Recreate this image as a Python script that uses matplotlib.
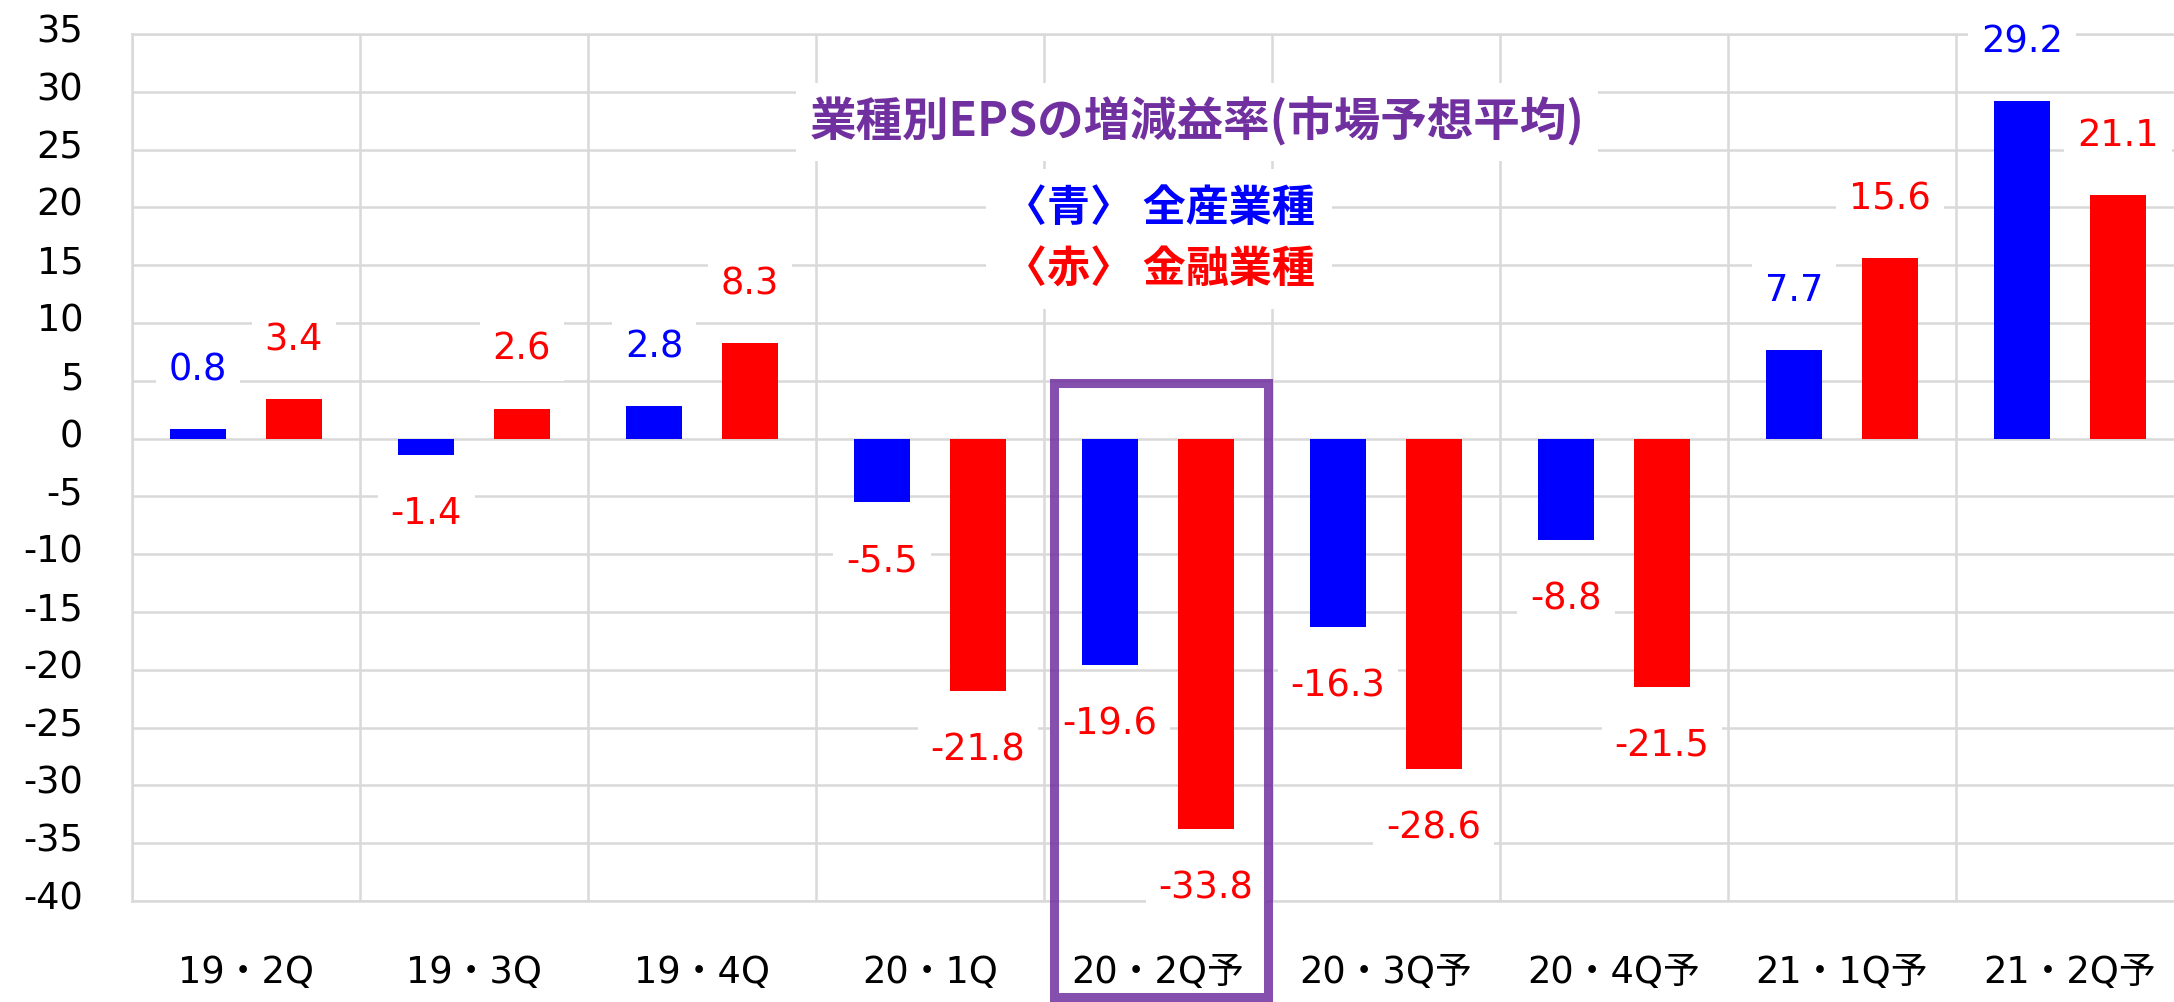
import numpy as np
import matplotlib
matplotlib.use('Agg')
import matplotlib.pyplot as plt
import matplotlib.transforms as mtransforms
from matplotlib.patches import Rectangle

plt.rcParams['font.family'] = ['DejaVu Sans', 'Noto Sans CJK JP']
plt.rcParams['axes.unicode_minus'] = False

# quarters, blue = all industries, red = financials
quarters = ['19・2Q', '19・3Q', '19・4Q', '20・1Q', '20・2Q予',
            '20・3Q予', '20・4Q予', '21・1Q予', '21・2Q予']
all_ind = [0.8, -1.4, 2.8, -5.5, -19.6, -16.3, -8.8, 7.7, 29.2]
financial = [3.4, 2.6, 8.3, -21.8, -33.8, -28.6, -21.5, 15.6, 21.1]
y_ticks = list(range(-40, 36, 5))

title = '業種別EPSの増減益率(市場予想平均)'
legend_blue = '〈青〉 全産業種'
legend_red = '〈赤〉 金融業種'

grid_col = '#d9d9d9'
purple = '#7030a0'

fig = plt.figure(figsize=(21.74, 10.02), dpi=100)
ax = fig.add_axes([0.0607, 0.1008, 0.9439, 0.8653])

x = np.arange(len(quarters))
w = 0.245
off = 0.21
ax.bar(x - off, all_ind, w, color='#0000ff', zorder=2)
ax.bar(x + off, financial, w, color='#ff0000', zorder=2)

# data labels, blue series goes red when negative
def label(xpos, val, col):
    dy = 42.5 if val >= 0 else -42.5
    ax.annotate(f'{val:.1f}', (xpos, val), xytext=(0, dy), textcoords='offset points',
                ha='center', va='center', fontsize=26.5, color=col, zorder=5,
                bbox=dict(boxstyle='square,pad=0.35', fc='white', ec='none'))

for i in range(len(quarters)):
    label(x[i] - off, all_ind[i], '#0000ff' if all_ind[i] >= 0 else '#ff0000')
    label(x[i] + off, financial[i], '#ff0000')

ax.set_xlim(-0.5, len(quarters) - 0.5)
ax.set_ylim(-40, 35)
ax.set_yticks(y_ticks)
ax.set_yticklabels([str(t) for t in y_ticks])
ax.set_xticks(x)
ax.set_xticklabels(quarters)
ax.set_xticks(np.arange(len(quarters) + 1) - 0.5, minor=True)

ax.grid(True, which='major', axis='y', color=grid_col, lw=1.8)
ax.grid(True, which='minor', axis='x', color=grid_col, lw=1.8)
ax.set_axisbelow(True)
for s in ax.spines.values():
    s.set_color(grid_col)
    s.set_linewidth(1.8)

ax.tick_params(axis='both', which='both', length=0)
ax.tick_params(axis='x', labelsize=26.5, pad=38)
ax.tick_params(axis='y', labelsize=26.5, pad=35)

shift = mtransforms.ScaledTranslation(0, 6 / 100, fig.dpi_scale_trans)
for lbl in ax.get_yticklabels():
    lbl.set_transform(lbl.get_transform() + shift)

# title and colour key inside the plot
ax.text(0.519, 0.8985, title, transform=ax.transAxes, ha='center', va='center',
        fontsize=33.5, fontweight='bold', color=purple, family=['Noto Sans CJK JP'],
        zorder=6, bbox=dict(boxstyle='square,pad=0.3', fc='white', ec='none'))
ax.text(0.5005, 0.799, legend_blue, transform=ax.transAxes, ha='center', va='center',
        fontsize=31, fontweight='bold', color='#0000ff', family=['Noto Sans CJK JP'],
        zorder=6, bbox=dict(boxstyle='square,pad=0.4', fc='white', ec='none'))
ax.text(0.5005, 0.728, legend_red, transform=ax.transAxes, ha='center', va='center',
        fontsize=31, fontweight='bold', color='#ff0000', family=['Noto Sans CJK JP'],
        zorder=6, bbox=dict(boxstyle='square,pad=0.4', fc='white', ec='none'))

# highlight box around the current quarter
hl = 4
rect = Rectangle((hl - 0.455, -48.3), 0.938, 48.3 + 4.77, fill=False,
                 ec=purple, lw=6.5, alpha=0.85, zorder=10, clip_on=False)
ax.add_patch(rect)

fig.savefig('out.png', dpi=100)
